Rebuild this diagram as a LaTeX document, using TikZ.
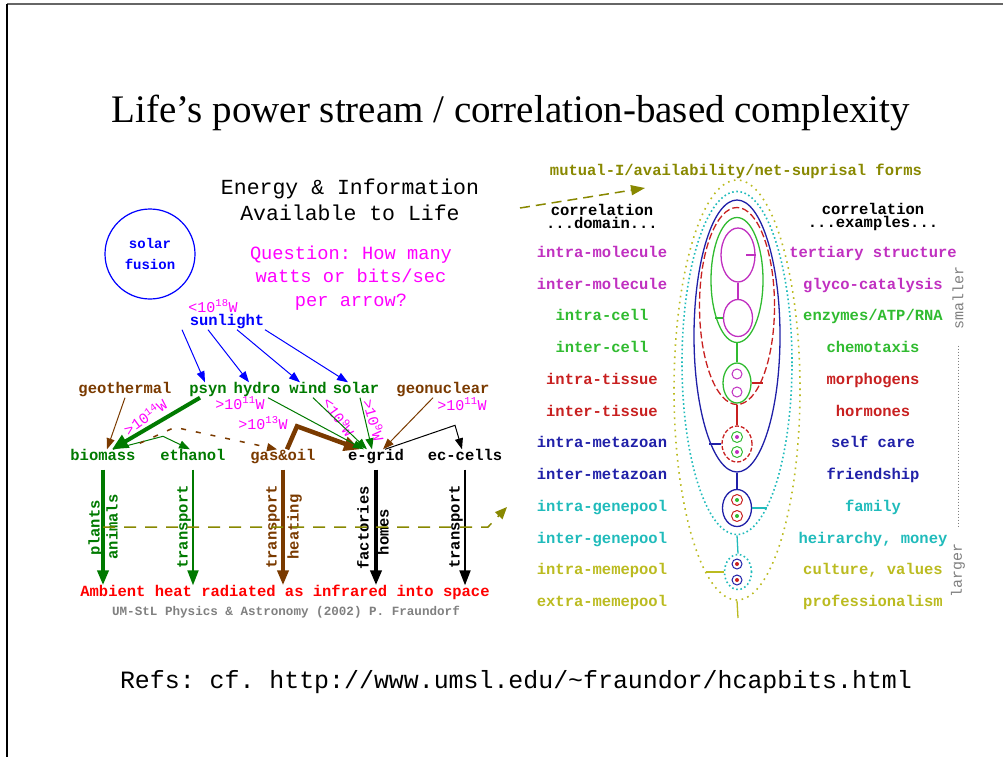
\documentclass[tikz,border=0pt]{standalone}
\usepackage{fontspec}
\setmainfont{Liberation Serif}
\setmonofont{Liberation Mono}
\usetikzlibrary{matrix,shapes.geometric,arrows.meta}

\definecolor{lifegreen}{HTML}{007A00}
\definecolor{lifebrown}{HTML}{7A3A00}
\definecolor{lifeblue}{HTML}{0000FF}
\definecolor{lifemag}{HTML}{FF00FF}
\definecolor{molc}{HTML}{C030C0}
\definecolor{cellc}{HTML}{30BB30}
\definecolor{tisc}{HTML}{C82020}
\definecolor{metac}{HTML}{2020A8}
\definecolor{genec}{HTML}{20BBBB}
\definecolor{memec}{HTML}{BBBB20}
\definecolor{mutc}{HTML}{888800}

\tikzset{
    lab/.style={font=\ttfamily\bfseries\fontsize{15.5}{16}\selectfont, inner sep=1pt, text height=10pt, text depth=3pt},
    hdr/.style={font=\ttfamily\bfseries\fontsize{15.5}{13}\selectfont, inner sep=1pt, align=center},
    watt/.style={font=\ttfamily\fontsize{15}{16}\selectfont, text=lifemag, inner sep=1pt},
    flow/.style={line width=1pt, -{Triangle[length=11pt,width=8pt]}},
    fat/.style={line width=4.5pt, -{Triangle[length=16pt,width=14pt]}},
    drop/.style={shorten <=5pt, -{Triangle[length=15pt,width=11pt]}},
    ring/.style={ellipse, draw, inner sep=0pt, line width=1.3pt},
    blob/.style={circle, draw, inner sep=0pt, line width=1pt},
    memering/.style={draw=memec, line width=1.6pt, dash pattern=on 1.6pt off 4.5pt},
    genering/.style={draw=genec, line width=1.6pt, dash pattern=on 1.6pt off 2.6pt},
    tisring/.style={draw=tisc, dash pattern=on 7pt off 3pt},
    tie/.style={line width=1.3pt},
}

\begin{document}
\begin{tikzpicture}[x=1pt,y=-1pt]
    \useasboundingbox (0,0) rectangle (1003,757);
    \draw[gray!80!black, line width=1.5pt] (7,4) -- (1003,4);
    \draw[line width=1.5pt] (7,4) -- (7,757);

    \node[font=\fontsize{39}{44}\selectfont] (title) at (511,113) {Life’s power stream / correlation-based complexity};
    \node[font=\ttfamily\fontsize{24.9}{28}\selectfont] (refs) at (516,682) {Refs: cf. http://www.umsl.edu/\textasciitilde fraundor/hcapbits.html};

    \node[font=\ttfamily\fontsize{21.5}{26}\selectfont, align=center] (head) at (350,200) {Energy \& Information\\Available to Life};
    \node[font=\ttfamily\fontsize{18.7}{23.5}\selectfont, text=lifemag, align=center] (quest) at (351,278) {Question: How many\\watts or bits/sec\\per arrow?};
    \node[circle, draw=lifeblue, line width=1.2pt, minimum size=90pt, inner sep=0pt, text=lifeblue,
          font=\ttfamily\bfseries\fontsize{14}{21}\selectfont, align=center] (fusion) at (150,254) {solar\\fusion};

    \node[watt] (sunw) at (213,306) {<10\textsuperscript{18}W};
    \node[lab, text=lifeblue] (sun) at (227,322) {sunlight};

    \node[lab, text=lifebrown] (geo) at (125,390) {geothermal};
    \node[lab, text=lifegreen] (psyn) at (208,390) {psyn};
    \node[lab, text=lifegreen] (hydro) at (257,390) {hydro};
    \node[lab, text=lifegreen] (wind) at (308,390) {wind};
    \node[lab, text=lifegreen] (solar) at (356,390) {solar};
    \node[lab, text=lifebrown] (geon) at (443,390) {geonuclear};

    \node[lab, text=lifegreen] (bio) at (103,457) {biomass};
    \node[lab, text=lifegreen] (eth) at (193,457) {ethanol};
    \node[lab, text=lifebrown] (gas) at (283,457) {gas\&oil};
    \node[lab] (grid) at (376,457) {e-grid};
    \node[lab] (ec) at (465,457) {ec-cells};

    \node[watt, rotate=36] (wpsyn) at (145,417) {>10\textsuperscript{14}W};
    \node[watt] (whydro) at (240,403) {>10\textsuperscript{11}W};
    \node[watt] (wgas) at (263,423) {>10\textsuperscript{13}W};
    \node[watt, rotate=-55] (wwind) at (339,417) {<10\textsuperscript{9}W};
    \node[watt, rotate=-74] (wsolar) at (374,420) {>10\textsuperscript{9}W};
    \node[watt] (wgeon) at (462,404) {>10\textsuperscript{11}W};

    \draw[lifeblue, flow] ([xshift=-45pt]sun.south) -- ([xshift=-3pt]psyn.north);
    \draw[lifeblue, flow] ([xshift=-19pt]sun.south) -- ([xshift=-8pt]hydro.north);
    \draw[lifeblue, flow] ([xshift=10pt]sun.south) -- ([xshift=-8pt]wind.north);
    \draw[lifeblue, flow] ([xshift=38pt]sun.south) -- ([xshift=-8pt]solar.north);

    \draw[lifebrown, flow] (geo.south) -- ([xshift=4pt]bio.north);
    \draw[lifegreen, fat, line width=4pt] ([xshift=-8pt]psyn.south) -- ([xshift=9pt]bio.north);
    \draw[lifegreen, flow] ([xshift=10pt]bio.north) -- ++(50,-13) -- ([xshift=-3pt]eth.north);
    \draw[lifebrown, line width=1.5pt, dash pattern=on 5pt off 10pt, -{Triangle[length=10pt,width=8pt]}]
        ([xshift=3pt,yshift=6pt]bio.north east) -- ++(35,-16) -- ([xshift=-6pt]gas.north);
    \draw[lifebrown, fat] ([xshift=4pt]gas.north) -- ++(10,-23) -- ([xshift=-16pt]grid.north);
    \draw[lifegreen, flow] ([xshift=11pt]hydro.south) -- ([xshift=-12pt]grid.north);
    \draw[lifegreen, flow] ([xshift=5pt]wind.south) -- ([xshift=-9pt]grid.north);
    \draw[lifegreen, flow] ([xshift=4pt]solar.south) -- ([xshift=-4pt]grid.north);
    \draw[lifebrown, flow] ([xshift=-10pt]geon.south) -- ([xshift=7pt]grid.north);
    \draw[flow] ([xshift=9pt]grid.north) -- ++(70,-24) -- ([xshift=-3pt]ec.north);

    \node[lab, text=red] (amb) at (285,593) {Ambient heat radiated as infrared into space};
    \node[font=\ttfamily\bfseries\fontsize{12.6}{14}\selectfont, text=gray] (credit) at (286,612) {UM-StL Physics \& Astronomy (2002) P. Fraundorf};

    \foreach \n/\w/\c in {bio/4/lifegreen, eth/2/lifegreen, gas/4.5/lifebrown, grid/4/black, ec/2/black}
        \draw[\c, line width=\w pt, drop] (\n.south) -- (\n.south |- amb.north);

    \node[lab, rotate=90, text=lifegreen] (plants) at (96,528) {plants};
    \node[lab, rotate=90, text=lifegreen] (animals) at (114,527) {animals};
    \node[lab, rotate=90, text=lifegreen] (ethuse) at (184,527) {transport};
    \node[lab, rotate=90, text=lifebrown] (gasuse) at (273,527) {transport};
    \node[lab, rotate=90, text=lifebrown] (heat) at (295,527) {heating};
    \node[lab, rotate=90] (fact) at (365,528) {factories};
    \node[lab, rotate=90] (homes) at (385,532) {homes};
    \node[lab, rotate=90] (ecuse) at (456,527) {transport};

    \coordinate (fromL) at (103,527);
    \coordinate (toL) at (507,507);
    \coordinate (fromR) at (520,208);
    \coordinate (toR) at (645,188);
    \draw[mutc, line width=1.5pt, dash pattern=on 12pt off 9pt, -{Triangle[length=12pt,width=10pt]}] (fromL) -- ++(385,0) -- (toL);
    \draw[mutc, line width=1.5pt, dash pattern=on 10pt off 6pt, -{Triangle[length=14pt,width=10pt]}] (fromR) -- (toR);

    \node[lab, text=mutc] (mut) at (736,172) {mutual-I/availability/net-suprisal forms};
    \node[hdr] (dom) at (602,216.5) {correlation\\...domain...};
    \node[hdr] (exam) at (873,216.5) {correlation\\...examples...};

    \matrix (tab) [matrix of nodes, nodes={lab, minimum width=180pt},
        column sep=91pt, row sep=16.73pt,
        row 1/.style={molc}, row 2/.style={molc}, row 3/.style={cellc}, row 4/.style={cellc},
        row 5/.style={tisc}, row 6/.style={tisc}, row 7/.style={metac}, row 8/.style={metac},
        row 9/.style={genec}, row 10/.style={genec}, row 11/.style={memec}, row 12/.style={memec}]
        at (737.5,428.5) {
        intra-molecule & tertiary structure \\
        inter-molecule & glyco-catalysis \\
        intra-cell & enzymes/ATP/RNA \\
        inter-cell & chemotaxis \\
        intra-tissue & morphogens \\
        inter-tissue & hormones \\
        intra-metazoan & self care \\
        inter-metazoan & friendship \\
        intra-genepool & family \\
        inter-genepool & heirarchy, money \\
        intra-memepool & culture, values \\
        extra-memepool & professionalism \\
    };

    \node[font=\ttfamily\fontsize{15}{16}\selectfont, text=gray, rotate=90, inner sep=1pt] (small) at (958,298) {smaller};
    \node[font=\ttfamily\fontsize{15}{16}\selectfont, text=gray, rotate=90, inner sep=1pt] (large) at (958,570) {larger};
    \draw[gray, line width=1pt, dash pattern=on 1pt off 2pt, shorten <=15pt, shorten >=15pt] (small.west) -- (large.east);

    \node[ring, memering, minimum width=126pt, minimum height=420pt] (meme) at (737,390) {};
    \node[ring, genering, minimum width=110pt, minimum height=343pt] (gene) at (737,363) {};
    \node[ring, draw=metac, minimum width=86pt, minimum height=272pt] (meta) at (737,336) {};
    \node[ring, tisring, minimum width=75pt, minimum height=197pt] (tis) at (737,306) {};
    \node[ring, draw=cellc, minimum width=52pt, minimum height=125pt] (cell) at (737,280) {};
    \node[ring, draw=molc, minimum width=34pt, minimum height=54pt] (molA) at (738,255) {};
    \node[ring, draw=molc, minimum width=29pt, minimum height=37pt] (molB) at (738,318) {};
    \node[ring, draw=cellc, minimum width=28pt, minimum height=40pt] (cellB) at (737,383) {};
    \node[ring, tisring, dash pattern=on 4pt off 2pt, minimum width=30pt, minimum height=36pt] (tisB) at (737,444) {};
    \node[ring, draw=metac, minimum width=29pt, minimum height=37pt] (metaB) at (737,508) {};
    \node[ring, genering, minimum width=27pt, minimum height=35pt] (geneB) at (738,572) {};

    \foreach \y in {374,392}
        \node[blob, draw=molc, minimum size=10pt] (cdot\y) at (737,\y) {};
    \foreach \y in {437,452} {
        \node[blob, draw=cellc, minimum size=11pt] (tdot\y) at (737,\y) {};
        \node[circle, fill=molc, inner sep=0pt, minimum size=4pt] (tin\y) at (737,\y) {};
    }
    \foreach \y in {500,516} {
        \node[blob, draw=tisc, minimum size=11pt] (mdot\y) at (737,\y) {};
        \node[circle, fill=cellc, inner sep=0pt, minimum size=4pt] (min\y) at (737,\y) {};
    }
    \foreach \y in {564,580} {
        \node[blob, draw=metac, minimum size=10pt] (gdot\y) at (737,\y) {};
        \node[circle, fill=tisc, inner sep=0pt, minimum size=4pt] (gin\y) at (737,\y) {};
    }

    \draw[molc, tie] (molA.south) -- (molB.north);
    \draw[cellc, tie] (cell.south) -- (cellB.north);
    \draw[tisc, tie] (tis.south) -- (tisB.north);
    \draw[metac, tie] (meta.south) -- (metaB.north);
    \draw[genec, tie] (gene.south) -- (geneB.north);
    \coordinate (memeEnd) at (738,618);
    \draw[memec, tie] (meme.south) -- (memeEnd);

    \draw[molc, tie] (molA.east) -- ++(-10,0);
    \draw[cellc, tie] (molB.west) -- ++(-8,0);
    \draw[tisc, tie] (cellB.east) -- ++(11,0);
    \draw[metac, tie] (tisB.west) -- ++(-12,0);
    \draw[genec, tie] (metaB.east) -- ++(15,0);
    \draw[memec, tie] (geneB.west) -- ++(-18,0);
\end{tikzpicture}
\end{document}
